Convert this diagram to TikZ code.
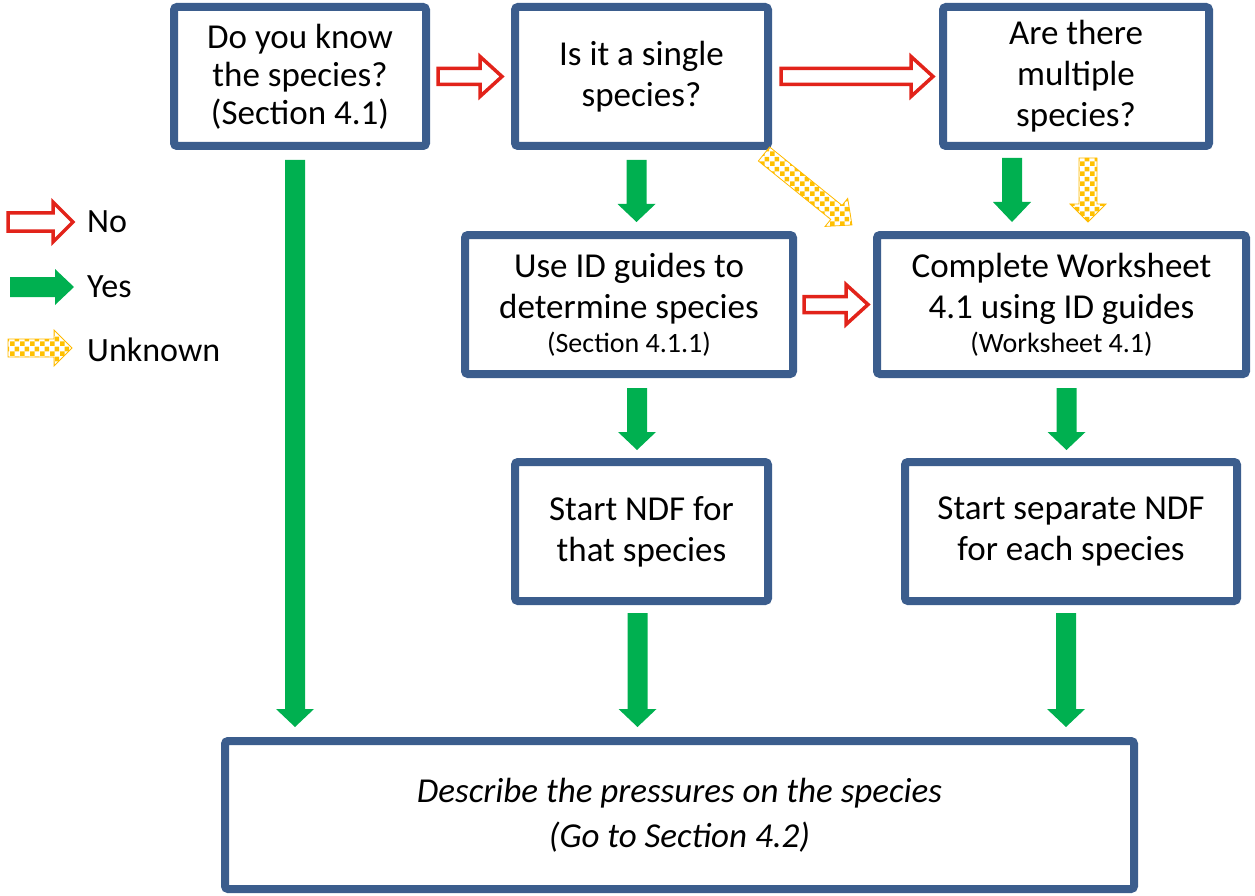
\documentclass[tikz,border=0pt]{standalone}
\usepackage{fontspec}
\setmainfont{Carlito}
\usetikzlibrary{calc,patterns.meta}

\definecolor{boxblue}{HTML}{3B5D8D}
\definecolor{yesgreen}{HTML}{00B050}
\definecolor{nored}{HTML}{E2231A}
\definecolor{unkgold}{HTML}{FFC000}

\tikzdeclarepattern{
  name=bigchecks,
  type=uncolored,
  bottom left={(0pt,0pt)},
  top right={(10pt,10pt)},
  tile size={(10pt,10pt)},
  code={\fill (0pt,0pt) rectangle (5pt,5pt); \fill (5pt,5pt) rectangle (10pt,10pt);}
}

% block arrow: #1 style, #2 from, #3 to, #4 shaft half width, #5 head half width, #6 head length
\newcommand\blockarrow[6]{%
  \path[#1] let \p1=(#2), \p2=(#3),
     \n1={atan2(\y2-\y1,\x2-\x1)}, \n2={veclen(\x2-\x1,\y2-\y1)} in
     [shift={(\p1)}, rotate=\n1]
     (0pt,#4pt) -- ({\n2-#6pt},#4pt) -- ({\n2-#6pt},#5pt) -- ({\n2},0pt)
     -- ({\n2-#6pt},-#5pt) -- ({\n2-#6pt},-#4pt) -- (0pt,-#4pt) -- cycle;}

\tikzset{
  flowbox/.style={draw=boxblue, line width=8pt, rounded corners=3pt, fill=white,
    align=center, inner sep=0pt, font=\fontsize{35}{41}\selectfont},
  yesarrow/.style={fill=yesgreen},
  noarrow/.style={draw=nored, line width=3.5pt, fill=white, line join=miter},
  unkarrow/.style={draw=unkgold!90!orange, line width=0.8pt, pattern={bigchecks}, pattern color=unkgold},
  legendtext/.style={anchor=west, inner sep=0pt, font=\fontsize{34}{40}\selectfont}
}
\newcommand\smallline[1]{{\fontsize{28}{34}\selectfont #1}}

\begin{document}
\begin{tikzpicture}[x=1pt, y=-1pt]
  \useasboundingbox (0,0) rectangle (1255,896);

  % question and action boxes
  \node[flowbox, minimum width=252pt, minimum height=139pt, font=\fontsize{35}{38}\selectfont] (b1) at (300,76.5)
    {Do you know\\the species?\\(Section 4.1)};
  \node[flowbox, minimum width=253pt, minimum height=139pt] (b2) at (641.5,76.5)
    {Is it a single\\species?};
  \node[flowbox, minimum width=266pt, minimum height=139pt] (b3) at (1076,76.5)
    {Are there\\multiple\\species?};
  \node[flowbox, minimum width=328pt, minimum height=139pt] (b4) at (629,304.5)
    {Use ID guides to\\determine species\\[-7pt]\smallline{(Section 4.1.1)}};
  \node[flowbox, minimum width=369pt, minimum height=139pt] (b5) at (1061.5,304.5)
    {Complete Worksheet\\4.1 using ID guides\\[-7pt]\smallline{(Worksheet 4.1)}};
  \node[flowbox, minimum width=253pt, minimum height=139pt] (b6) at (641.5,531.5)
    {Start NDF for\\that species};
  \node[flowbox, minimum width=332pt, minimum height=139pt] (b7) at (1071,531.5)
    {Start separate NDF\\for each species};
  \node[flowbox, minimum width=909pt, minimum height=148pt, font=\fontsize{35}{45}\selectfont\itshape] (b8) at (679.5,815)
    {Describe the pressures on the species\\(Go to Section 4.2)};

  % "No" arrows
  \blockarrow{noarrow}{$(b1.east)+(8,0)$}{$(b2.west)+(-9,0)$}{8}{20}{22}
  \blockarrow{noarrow}{$(b2.east)+(9,0)$}{$(b3.west)+(-6,0)$}{8}{20}{22}
  \blockarrow{noarrow}{$(b4.east)+(7,0)$}{$(b5.west)+(-5,0)$}{8}{20}{22}

  % "Yes" arrows
  \blockarrow{yesarrow}{$(b1.south)+(-5,10)$}{$(b8.north -| b1.south)+(-5,-10)$}{10}{19}{18}
  \blockarrow{yesarrow}{$(b2.south)+(-5,10)$}{$(b4.north -| b2.south)+(-5,-9)$}{10}{19}{18}
  \blockarrow{yesarrow}{$(b3.south)+(-64,8)$}{$(b5.north -| b3.south)+(-64,-9)$}{10}{19}{20}
  \blockarrow{yesarrow}{$(b4.south)+(8,10)$}{$(b6.north -| b4.south)+(8,-8)$}{10}{19}{18}
  \blockarrow{yesarrow}{$(b5.south)+(5,10)$}{$(b7.north -| b5.south)+(5,-8)$}{10}{19}{18}
  \blockarrow{yesarrow}{$(b6.south)+(-4,8)$}{$(b8.north -| b6.south)+(-4,-10)$}{10}{19}{18}
  \blockarrow{yesarrow}{$(b7.south)+(-5,8)$}{$(b8.north -| b7.south)+(-5,-10)$}{10}{19}{18}

  % "Unknown" arrows
  \blockarrow{unkarrow}{$(b3.south)+(12,8)$}{$(b5.north -| b3.south)+(12,-9)$}{9}{18}{18}
  \coordinate (d0) at ($(b2.south east)+(-8,4)$);
  \coordinate (d1) at ($(b5.north west)+(-21,-6)$);
  \blockarrow{unkarrow}{d0}{d1}{9}{18}{20}

  % legend
  \coordinate (ln0) at (8,222);  \coordinate (ln1) at (73,222);
  \coordinate (ly0) at (10,287); \coordinate (ly1) at (74,287);
  \coordinate (lu0) at (8,348);  \coordinate (lu1) at (72,348);
  \blockarrow{noarrow}{ln0}{ln1}{9}{20}{20}
  \blockarrow{yesarrow}{ly0}{ly1}{10}{18}{19}
  \blockarrow{unkarrow}{lu0}{lu1}{9}{18}{18}
  \node[legendtext] (tno) at (87,222) {No};
  \node[legendtext] (tyes) at (87,287) {Yes};
  \node[legendtext] (tunk) at (87,350) {Unknown};
\end{tikzpicture}
\end{document}
